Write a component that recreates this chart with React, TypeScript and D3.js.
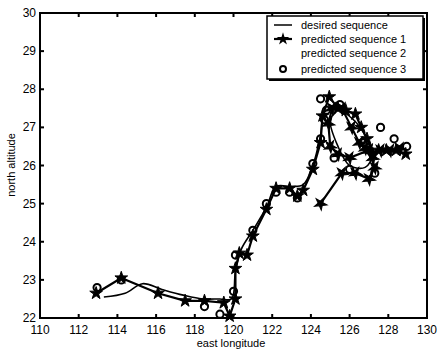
import React from 'react';
import * as d3 from 'd3';

const xTicks = [110, 112, 114, 116, 118, 120, 122, 124, 126, 128, 130];
const yTicks = [22, 23, 24, 25, 26, 27, 28, 29, 30];

const desired: [number, number][] = [
  [113.3, 22.55], [114.4, 22.65], [115.3, 22.9], [116.3, 22.75], [117.4, 22.6], [118.4, 22.5],
  [119.3, 22.5], [119.9, 22.5], [120.1, 23.2], [120.4, 23.8], [121.0, 24.3], [121.7, 24.9],
  [122.2, 25.45], [123.0, 25.45], [123.6, 25.5], [124.1, 26.0], [124.5, 26.8], [124.7, 27.4],
  [125.2, 27.5], [126.2, 27.2], [126.9, 26.7], [127.2, 26.3], [126.8, 25.95], [126.0, 26.0],
  [125.4, 26.5], [125.0, 27.2], [125.3, 27.4],
];

const predicted1: [number, number][] = [
  [112.9, 22.65], [114.2, 23.05], [116.1, 22.65], [117.5, 22.45], [118.5, 22.45], [119.5, 22.4],
  [119.8, 22.05], [120.1, 22.5], [120.1, 23.3], [120.3, 23.7], [120.7, 23.65], [121.0, 24.15],
  [121.7, 24.85], [122.2, 25.4], [122.9, 25.4], [123.3, 25.2], [123.6, 25.35], [124.1, 25.9],
  [124.5, 26.6], [124.6, 27.3], [124.95, 27.8], [125.4, 27.5], [125.8, 27.45], [126.3, 27.35],
  [126.6, 27.0], [126.9, 26.7], [127.2, 26.3], [127.5, 26.4], [127.9, 26.4], [128.4, 26.4], [128.9, 26.3],
];

const predicted2: [number, number][] = [
  [124.5, 25.0], [125.6, 25.8], [126.3, 25.8], [127.0, 25.65], [127.3, 25.95], [127.0, 26.4],
  [126.0, 26.2], [125.4, 26.3], [125.0, 26.5], [124.9, 27.1], [125.1, 27.5], [125.6, 27.5],
  [126.1, 27.0], [126.5, 26.6], [126.8, 26.45], [127.0, 26.4], [127.2, 26.2], [127.6, 26.4],
  [128.1, 26.4], [128.6, 26.45],
];

const predicted3: [number, number][] = [
  [112.95, 22.8], [114.2, 23.0], [118.5, 22.3], [119.3, 22.1], [120.0, 22.7], [120.1, 23.65],
  [121.0, 24.3], [121.7, 25.0], [122.2, 25.3], [122.9, 25.3], [123.3, 25.15], [124.1, 26.05],
  [124.5, 26.7], [124.5, 27.75], [124.8, 27.45], [125.5, 27.6], [125.2, 26.2], [126.0, 25.9],
  [127.3, 25.8], [127.6, 27.0], [128.3, 26.7], [128.95, 26.5], [127.0, 26.4], [126.7, 26.6],
  [124.7, 27.2],
];

const legendLabels = ['desired sequence', 'predicted sequence 1', 'predicted sequence 2', 'predicted sequence 3'];

const x = d3.scaleLinear().domain([110, 130]).range([40, 427]);
const y = d3.scaleLinear().domain([22, 30]).range([318, 13]);

const font = 'Arial, "Liberation Sans", sans-serif';

export default function App() {
  const line = d3.line<[number, number]>().x(d => x(d[0])).y(d => y(d[1]));
  const smooth = d3.line<[number, number]>().x(d => x(d[0])).y(d => y(d[1])).curve(d3.curveCatmullRom);
  const star = d3.symbol().type(d3.symbolStar).size(50)()!;

  return (
    <svg width={437} height={350} style={{ position: 'absolute', left: 0, top: 0, background: '#fff' }}>
      {/* series */}
      <path d={smooth(desired)!} fill="none" stroke="#000" strokeWidth={1.6} />
      <path d={line(predicted2)!} fill="none" stroke="#000" strokeWidth={2.2} />
      {predicted2.map((d, i) => (
        <path key={'p2' + i} d={star} transform={`translate(${x(d[0])},${y(d[1])}) rotate(30)`} fill="#000" stroke="#000" strokeWidth={1} />
      ))}
      <path d={line(predicted1)!} fill="none" stroke="#000" strokeWidth={2.2} />
      {predicted1.map((d, i) => (
        <path key={'p1' + i} d={star} transform={`translate(${x(d[0])},${y(d[1])})`} fill="#000" stroke="#000" strokeWidth={1} />
      ))}
      {predicted3.map((d, i) => (
        <circle key={'p3' + i} cx={x(d[0])} cy={y(d[1])} r={3.6} fill="none" stroke="#000" strokeWidth={2} />
      ))}

      {/* axes box */}
      <rect x={40} y={13} width={387} height={305} fill="none" stroke="#000" strokeWidth={2} />
      {xTicks.map(t => (
        <g key={'x' + t}>
          <line x1={x(t)} x2={x(t)} y1={318} y2={314} stroke="#000" strokeWidth={2} />
          <line x1={x(t)} x2={x(t)} y1={13} y2={17} stroke="#000" strokeWidth={2} />
          <text x={x(t)} y={334} textAnchor="middle" fontFamily={font} fontSize={12}>{t}</text>
        </g>
      ))}
      {yTicks.map(t => (
        <g key={'y' + t}>
          <line x1={40} x2={44} y1={y(t)} y2={y(t)} stroke="#000" strokeWidth={2} />
          <line x1={427} x2={423} y1={y(t)} y2={y(t)} stroke="#000" strokeWidth={2} />
          <text x={36} y={y(t) + 4} textAnchor="end" fontFamily={font} fontSize={12}>{t}</text>
        </g>
      ))}
      <text x={231} y={347} textAnchor="middle" fontFamily={font} fontSize={11}>east longitude</text>
      <text transform="translate(15,165) rotate(-90)" textAnchor="middle" fontFamily={font} fontSize={11}>north altitude</text>

      {/* legend */}
      <rect x={269} y={18} width={156} height={63} fill="#000" />
      <rect x={267} y={16} width={156} height={63} fill="#fff" stroke="#000" strokeWidth={1.5} />
      {legendLabels.map((l, i) => {
        const ly = [25, 39, 53, 69][i];
        return (
          <g key={l}>
            {i < 2 && <line x1={274} x2={292} y1={ly} y2={ly} stroke="#000" strokeWidth={i === 0 ? 1.5 : 2.2} />}
            {i === 1 && <path d={star} transform={`translate(283,${ly})`} fill="#000" />}
            {i === 3 && <circle cx={283} cy={ly} r={3} fill="none" stroke="#000" strokeWidth={2} />}
            <text x={301} y={ly + 4} fontFamily={font} fontSize={11}>{l}</text>
          </g>
        );
      })}
    </svg>
  );
}
